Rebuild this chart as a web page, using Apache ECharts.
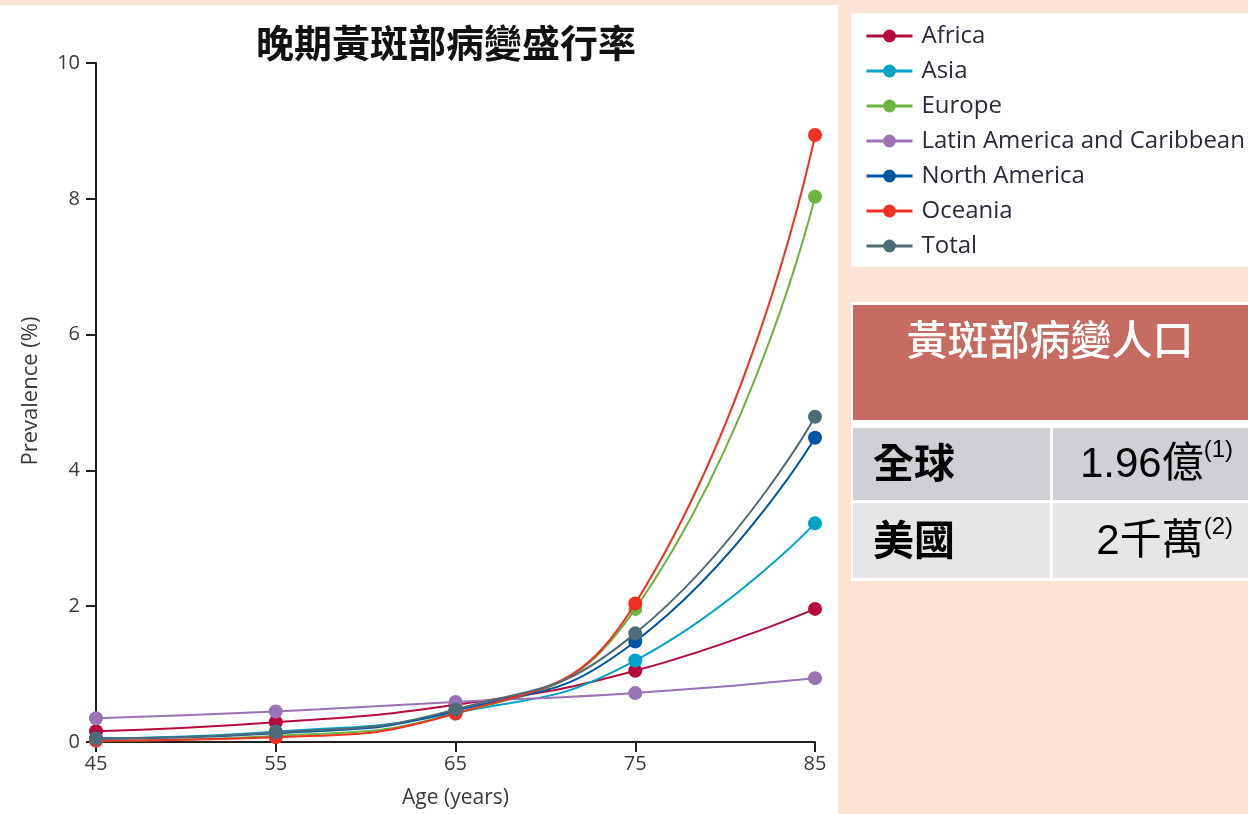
<!DOCTYPE html>
<html>
<head>
<meta charset="utf-8">
<script src="https://cdn.jsdelivr.net/npm/echarts@6/dist/echarts.min.js"></script>
<style>
html,body{margin:0;padding:0;background:#FDE3D4;}
#chart{width:1248px;height:814px;}
</style>
</head>
<body>
<div id="chart"></div>
<script>
const chartTitle = '晚期黃斑部病變盛行率';
const xAxisName = 'Age (years)';
const yAxisName = 'Prevalence (%)';
const ages = ['45', '55', '65', '75', '85'];
const yTicks = [0, 2, 4, 6, 8, 10];
const seriesNames = ['Africa', 'Asia', 'Europe', 'Latin America and Caribbean', 'North America', 'Oceania', 'Total'];
const seriesColors = ['#B50A3C', '#00A3C8', '#6DB33F', '#9B72B4', '#0054A3', '#EE3124', '#4E6B78'];
const africa   = [0.16, 0.29, 0.55, 1.05, 1.96];
const asia     = [0.05, 0.15, 0.43, 1.20, 3.22];
const europe   = [0.02, 0.09, 0.42, 1.96, 8.03];
const latinAm  = [0.35, 0.45, 0.59, 0.72, 0.94];
const northAm  = [0.05, 0.13, 0.46, 1.48, 4.48];
const oceania  = [0.02, 0.07, 0.42, 2.04, 8.94];
const total    = [0.05, 0.14, 0.48, 1.60, 4.79];
const seriesValues = [africa, asia, europe, latinAm, northAm, oceania, total];

const tableTitle = '黃斑部病變人口';
const tableLabels = ['全球', '美國'];
const tableValues = ['1.96億', '2千萬'];
const tableNotes = ['(1)', '(2)'];

const chart = echarts.init(document.getElementById('chart'));
const latin = '"Open Sans", "Noto Sans", sans-serif';
const cjk = '"Noto Sans CJK TC", "Noto Sans CJK SC", sans-serif';

const graphics = [
  {type: 'rect', silent: true, z: -10, shape: {x: 0, y: 5, width: 838, height: 809}, style: {fill: '#FFFFFF'}},
  {type: 'rect', silent: true, z: -10, shape: {x: 851, y: 13, width: 397, height: 254}, style: {fill: '#FFFFFF'}},
  {type: 'rect', silent: true, z: -10, shape: {x: 851, y: 302, width: 397, height: 279}, style: {fill: '#FFFFFF'}},
  {type: 'rect', silent: true, z: -9, shape: {x: 853, y: 305, width: 395, height: 115}, style: {fill: '#C66B61'}},
  {type: 'rect', silent: true, z: -9, shape: {x: 853, y: 428, width: 197, height: 72}, style: {fill: '#CFD0D4'}},
  {type: 'rect', silent: true, z: -9, shape: {x: 1053, y: 428, width: 195, height: 72}, style: {fill: '#CFD0D4'}},
  {type: 'rect', silent: true, z: -9, shape: {x: 853, y: 503, width: 197, height: 75}, style: {fill: '#E5E6E8'}},
  {type: 'rect', silent: true, z: -9, shape: {x: 1053, y: 503, width: 195, height: 75}, style: {fill: '#E5E6E8'}},
  {type: 'text', silent: true, z: 5, x: 1050, y: 339, style: {text: tableTitle, fill: '#FFFFFF', font: '500 41px ' + cjk, align: 'center', verticalAlign: 'middle'}},
  {type: 'text', silent: true, z: 5, x: 31, y: 391, rotation: Math.PI / 2, style: {text: yAxisName, fill: '#3A3A3A', font: '22px ' + latin, align: 'center', verticalAlign: 'middle'}}
];
const rowCenters = [462, 539];
tableLabels.forEach((lab, i) => {
  graphics.push({type: 'text', silent: true, z: 5, x: 873, y: rowCenters[i], style: {text: lab, fill: '#000', font: 'bold 41px ' + cjk, align: 'left', verticalAlign: 'middle'}});
  graphics.push({type: 'text', silent: true, z: 5, x: 1233, y: rowCenters[i], style: {
    text: '{v|' + tableValues[i] + '}{s|' + tableNotes[i] + '}',
    align: 'right', verticalAlign: 'middle',
    rich: {
      v: {fontSize: 42, fontFamily: '"Liberation Sans", Arial, ' + cjk, fill: '#000', lineHeight: 48, verticalAlign: 'bottom'},
      s: {fontSize: 24, fontFamily: '"Liberation Sans", Arial, sans-serif', fill: '#000', lineHeight: 48, verticalAlign: 'top', padding: [0, 0, 18, 0]}
    }
  }});
});

chart.setOption({
  backgroundColor: '#FDE3D4',
  animation: false,
  title: {
    text: chartTitle, left: 441, top: 19, textAlign: 'center',
    textStyle: {fontFamily: cjk, fontSize: 38, fontWeight: 'bold', color: '#111'}
  },
  legend: {
    orient: 'vertical', left: 860, top: 19,
    itemWidth: 46, itemHeight: 16, itemGap: 11,
    data: seriesNames,
    lineStyle: {width: 3},
    textStyle: {fontFamily: latin, fontSize: 24, color: '#2B2A3C', lineHeight: 24, padding: [0, 0, 0, 4]}
  },
  grid: {left: 96, right: 433, top: 63, bottom: 70, containLabel: false},
  xAxis: {
    type: 'category', data: ages, boundaryGap: false,
    name: xAxisName, nameLocation: 'middle', nameGap: 46,
    nameTextStyle: {fontFamily: latin, fontSize: 21, color: '#3A3A3A'},
    axisLine: {lineStyle: {color: '#231F20', width: 2}},
    axisTick: {alignWithLabel: true, length: 10, lineStyle: {color: '#231F20', width: 2}},
    axisLabel: {fontFamily: latin, fontSize: 20, color: '#3A3A3A', margin: 12},
    splitLine: {show: false}
  },
  yAxis: {
    type: 'value', min: yTicks[0], max: yTicks[yTicks.length - 1], interval: 2,
    axisLine: {show: true, lineStyle: {color: '#231F20', width: 2}},
    axisTick: {show: true, length: 10, lineStyle: {color: '#231F20', width: 2}},
    axisLabel: {fontFamily: latin, fontSize: 20, color: '#3A3A3A', margin: 16},
    splitLine: {show: false}
  },
  series: seriesNames.map((n, i) => ({
    name: n, type: 'line', data: seriesValues[i],
    smooth: 0.5,
    symbol: 'circle', symbolSize: 14,
    lineStyle: {color: seriesColors[i], width: 2},
    itemStyle: {color: seriesColors[i]},
    z: 2 + i
  })),
  graphic: graphics
});
</script>
</body>
</html>
